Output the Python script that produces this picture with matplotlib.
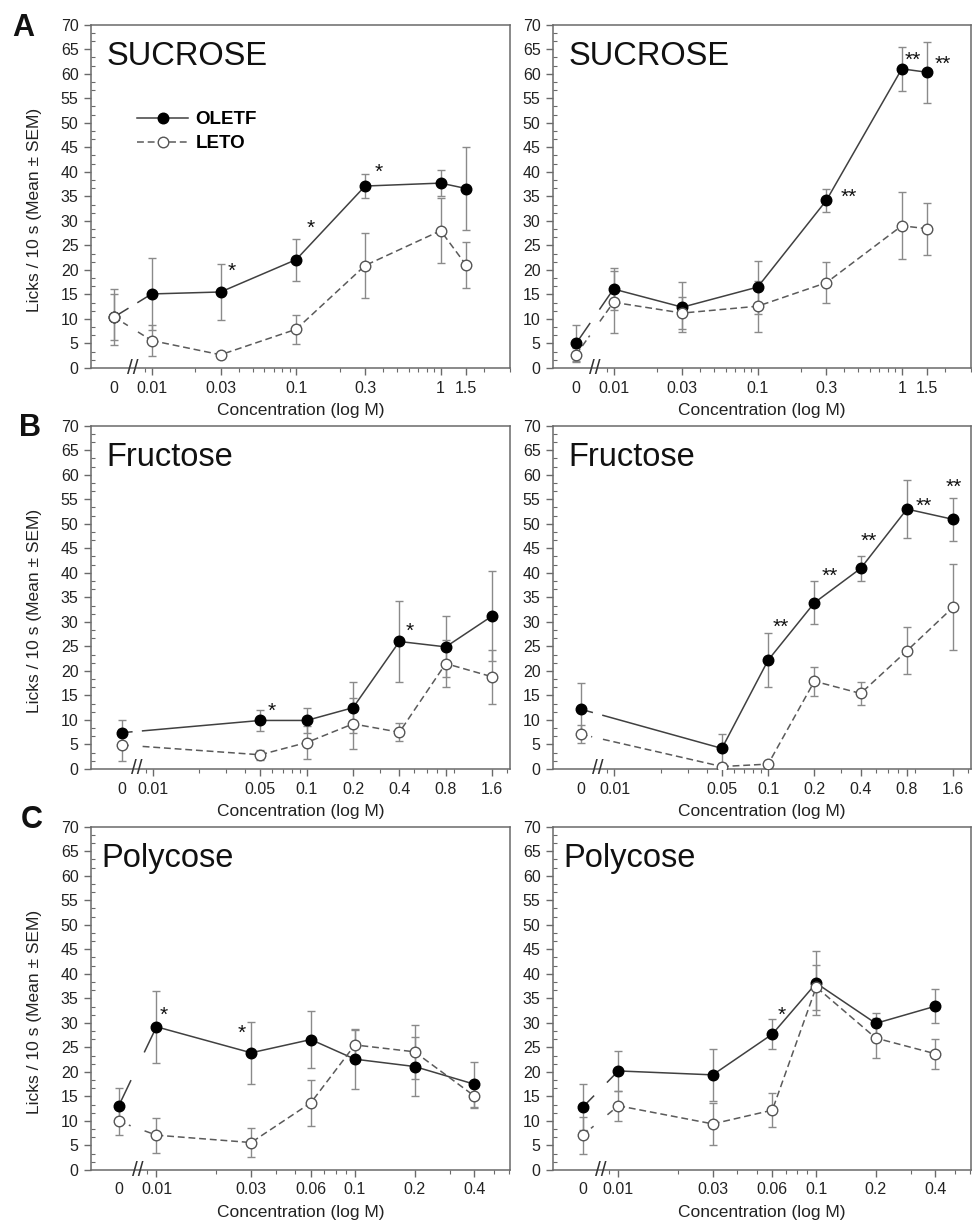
import numpy as np
import matplotlib
matplotlib.use("Agg")
import matplotlib.pyplot as plt
import matplotlib.transforms as mtransforms
from matplotlib.ticker import MultipleLocator, FixedLocator
from matplotlib.lines import Line2D

plt.rcParams['font.family'] = ['Liberation Sans', 'DejaVu Sans']

# ---- concentrations (M) and x tick labels ----
suc_conc = [0, 0.01, 0.03, 0.1, 0.3, 1, 1.5]
suc_ticks = [0, 0.01, 0.03, 0.1, 0.3, 1, 1.5]
suc_ticklabels = ['0', '0.01', '0.03', '0.1', '0.3', '1', '1.5']

fru_conc = [0, 0.05, 0.1, 0.2, 0.4, 0.8, 1.6]
fru_ticks = [0, 0.01, 0.05, 0.1, 0.2, 0.4, 0.8, 1.6]
fru_ticklabels = ['0', '0.01', '0.05', '0.1', '0.2', '0.4', '0.8', '1.6']

poly_conc = [0, 0.01, 0.03, 0.06, 0.1, 0.2, 0.4]
poly_ticks = [0, 0.01, 0.03, 0.06, 0.1, 0.2, 0.4]
poly_ticklabels = ['0', '0.01', '0.03', '0.06', '0.1', '0.2', '0.4']

# ---- licks / 10 s, mean and SEM ----
# A, left
sucL_oletf = [10.4, 15.1, 15.5, 22.1, 37.1, 37.7, 36.6]
sucL_oletf_sem = [5.8, 7.4, 5.7, 4.3, 2.4, 2.7, 8.5]
sucL_leto = [10.4, 5.6, 2.7, 7.9, 20.9, 28.0, 21.0]
sucL_leto_sem = [4.7, 3.2, 0.5, 3.0, 6.7, 6.6, 4.7]
# A, right
sucR_oletf = [5.0, 16.1, 12.4, 16.5, 34.2, 61.0, 60.3]
sucR_oletf_sem = [3.7, 4.3, 5.1, 5.4, 2.4, 4.5, 6.2]
sucR_leto = [2.7, 13.4, 11.2, 12.6, 17.4, 29.0, 28.4]
sucR_leto_sem = [1.3, 6.3, 3.2, 5.2, 4.2, 6.8, 5.3]
# B, left
fruL_oletf = [7.4, 9.9, 9.9, 12.5, 26.0, 24.9, 31.2]
fruL_oletf_sem = [2.5, 2.2, 2.5, 5.2, 8.2, 6.2, 9.2]
fruL_leto = [4.9, 2.9, 5.4, 9.2, 7.5, 21.5, 18.8]
fruL_leto_sem = [3.2, 1.0, 3.4, 5.2, 1.8, 4.8, 5.5]
# B, right
fruR_oletf = [12.2, 4.2, 22.2, 33.9, 40.9, 53.0, 50.9]
fruR_oletf_sem = [5.3, 2.9, 5.5, 4.4, 2.5, 5.9, 4.4]
fruR_leto = [7.1, 0.5, 1.0, 17.9, 15.4, 24.1, 33.0]
fruR_leto_sem = [1.8, 0.5, 0.5, 3.0, 2.3, 4.8, 8.8]
# C, left
polyL_oletf = [13.1, 29.2, 23.9, 26.6, 22.6, 21.1, 17.5]
polyL_oletf_sem = [3.6, 7.3, 6.3, 5.8, 6.0, 6.1, 4.6]
polyL_leto = [9.9, 7.1, 5.6, 13.7, 25.5, 24.1, 15.1]
polyL_leto_sem = [2.8, 3.6, 2.9, 4.7, 3.2, 5.5, 2.5]
# C, right
polyR_oletf = [12.8, 20.2, 19.4, 27.7, 38.1, 29.9, 33.4]
polyR_oletf_sem = [4.7, 4.1, 5.3, 3.0, 6.5, 2.2, 3.5]
polyR_leto = [7.1, 13.1, 9.4, 12.2, 37.3, 26.9, 23.7]
polyR_leto_sem = [3.8, 3.1, 4.3, 3.5, 4.6, 4.1, 3.1]

# significance marks: (point index, text, dx px, dy px)
sucL_stars = [(2, '*', 11, 21), (3, '*', 15, 31), (4, '*', 14, 14)]
sucR_stars = [(4, '**', 22, 3), (5, '**', 11, 9), (6, '**', 16, 8)]
fruL_stars = [(1, '*', 11, 9), (4, '*', 10, 10)]
fruR_stars = [(2, '**', 13, 33), (3, '**', 15, 26), (4, '**', 8, 27),
              (5, '**', 17, 3), (6, '**', 1, 32)]
polyL_stars = [(1, '*', 7, 11), (2, '*', -9, 19)]
polyR_stars = [(3, '*', 9, 19)]

W, H = 972, 1226
fig = plt.figure(figsize=(W / 100, H / 100), dpi=100)

GRAY = '#6a6a6a'
ERR = '#8a8a8a'
DASH = (0, (4.5, 2.5))


def xpos(c, zero):
    return np.array([np.log10(v) if v > 0 else zero for v in c])


def panel(rect, title, title_x, conc, ticks, ticklabels, xlim, zero,
          oletf, oletf_sem, leto, leto_sem, stars, ylabel=False, legend=False):
    ax = fig.add_axes(rect)
    x = xpos(conc, zero)
    brk = -2 + (zero + 2) * 0.5
    gap = 0.035

    # lines, with a gap where the axis is broken
    for y, ls, col in [(oletf, '-', '#404040'), (leto, DASH, '#5a5a5a')]:
        y = np.asarray(y, float)
        x0, x1, y0, y1 = x[0], x[1], y[0], y[1]
        def yat(xx):
            return y0 + (y1 - y0) * (xx - x0) / (x1 - x0)
        if x1 > brk + gap:
            ax.plot([x0, brk - gap], [y0, yat(brk - gap)], ls=ls, color=col, lw=1.1, zorder=3)
            ax.plot([brk + gap, x1], [yat(brk + gap), y1], ls=ls, color=col, lw=1.1, zorder=3)
        ax.plot(x[1:], y[1:], ls=ls, color=col, lw=1.1, zorder=3)

    ax.errorbar(x, oletf, yerr=oletf_sem, fmt='none', ecolor=ERR, elinewidth=1,
                capsize=3, capthick=1, zorder=2)
    ax.errorbar(x, leto, yerr=leto_sem, fmt='none', ecolor=ERR, elinewidth=1,
                capsize=3, capthick=1, zorder=2)
    ax.plot(x, oletf, 'o', ms=7.6, mfc='black', mec='black', zorder=5)
    ax.plot(x, leto, 'o', ms=7.6, mfc='white', mec='#555555', mew=1, zorder=5)

    for i, s, dx, dy in stars:
        ax.annotate(s, (x[i], oletf[i]), xytext=(dx * 0.72, dy * 0.72),
                    textcoords='offset points', ha='center', va='center',
                    fontsize=15, color='#111111', zorder=6)

    ax.set_xlim(*xlim)
    ax.set_ylim(0, 70)
    ax.yaxis.set_major_locator(MultipleLocator(5))
    ax.yaxis.set_minor_locator(MultipleLocator(5 / 3))
    tick_x = xpos(ticks, zero)
    ax.xaxis.set_major_locator(FixedLocator(tick_x))
    ax.set_xticklabels(ticklabels)
    minors = [np.log10(k * 10.0 ** d) for d in (-3, -2, -1, 0) for k in range(2, 10)]
    minors = [m for m in minors if -2.06 < m < xlim[1]]
    ax.xaxis.set_minor_locator(FixedLocator(minors))
    ax.xaxis.get_major_ticks()[0].tick1line.set_visible(False)

    for sp in ax.spines.values():
        sp.set_color(GRAY)
        sp.set_linewidth(1.1)
    ax.tick_params(which='major', direction='out', length=5, width=1, color=GRAY,
                   labelsize=11.5, labelcolor='#222222', pad=4)
    ax.tick_params(axis='y', which='minor', direction='in', length=3, width=0.8, color=GRAY)
    ax.tick_params(axis='x', which='minor', direction='out', length=3, width=0.8, color=GRAY)

    # axis break marks
    trans = mtransforms.blended_transform_factory(ax.transData, ax.transAxes)
    ax.text(brk, 0, '//', transform=trans, ha='center', va='center', fontsize=15,
            color='#333333', clip_on=False, zorder=7)

    ax.text(title_x, 0.953, title, transform=ax.transAxes, ha='left', va='top',
            fontsize=23.5, color='#111111')
    ax.set_xlabel('Concentration (log M)', fontsize=12.5, color='#222222')
    ax.xaxis.set_label_coords(0.5, -0.102)
    if ylabel:
        ax.set_ylabel('Licks / 10 s (Mean \u00b1 SEM)', fontsize=12.5, color='#222222')
        ax.yaxis.set_label_coords(-0.117, 0.46)
    if legend:
        handles = [Line2D([], [], color='#404040', lw=1.1, marker='o', ms=7.6,
                          mfc='black', mec='black'),
                   Line2D([], [], color='#5a5a5a', lw=1.1, ls=DASH, marker='o',
                          ms=7.6, mfc='white', mec='#555555')]
        ax.legend(handles, ['OLETF', 'LETO'], loc='upper left',
                  bbox_to_anchor=(0.088, 0.775), frameon=False, borderpad=0,
                  handlelength=2.7, handletextpad=0.4, labelspacing=0.35,
                  prop={'weight': 'bold', 'size': 13.5})
    return ax


def rect(px_left, px_top, px_right, px_bottom):
    return [px_left / W, 1 - px_bottom / H, (px_right - px_left) / W,
            (px_bottom - px_top) / H]


rows = [(24.7, 368), (425.7, 769), (826.7, 1170)]
L = (91, 510)
R = (553, 971)

suc_xlim = (-2.42, 0.48)
fru_xlim = (-2.40, 0.32)
poly_xlim = (-2.33, -0.218)

panel(rect(L[0], rows[0][0], L[1], rows[0][1]), 'SUCROSE', 0.036, suc_conc, suc_ticks,
      suc_ticklabels, suc_xlim, -2.26, sucL_oletf, sucL_oletf_sem, sucL_leto,
      sucL_leto_sem, sucL_stars, ylabel=True, legend=True)
panel(rect(R[0], rows[0][0], R[1], rows[0][1]), 'SUCROSE', 0.036, suc_conc, suc_ticks,
      suc_ticklabels, suc_xlim, -2.26, sucR_oletf, sucR_oletf_sem, sucR_leto,
      sucR_leto_sem, sucR_stars)
panel(rect(L[0], rows[1][0], L[1], rows[1][1]), 'Fructose', 0.036, fru_conc, fru_ticks,
      fru_ticklabels, fru_xlim, -2.20, fruL_oletf, fruL_oletf_sem, fruL_leto,
      fruL_leto_sem, fruL_stars, ylabel=True)
panel(rect(R[0], rows[1][0], R[1], rows[1][1]), 'Fructose', 0.036, fru_conc, fru_ticks,
      fru_ticklabels, fru_xlim, -2.22, fruR_oletf, fruR_oletf_sem, fruR_leto,
      fruR_leto_sem, fruR_stars)
panel(rect(L[0], rows[2][0], L[1], rows[2][1]), 'Polycose', 0.025, poly_conc, poly_ticks,
      poly_ticklabels, poly_xlim, -2.19, polyL_oletf, polyL_oletf_sem, polyL_leto,
      polyL_leto_sem, polyL_stars, ylabel=True)
panel(rect(R[0], rows[2][0], R[1], rows[2][1]), 'Polycose', 0.024, poly_conc, poly_ticks,
      poly_ticklabels, poly_xlim, -2.18, polyR_oletf, polyR_oletf_sem, polyR_leto,
      polyR_leto_sem, polyR_stars)

for letter, px_x, px_top in [('A', 23, 13), ('B', 30, 413), ('C', 32, 805)]:
    fig.text(px_x / W, 1 - px_top / H, letter, ha='center', va='top',
             fontsize=22, fontweight='bold', color='#111111')

fig.savefig('out.png', dpi=100)
